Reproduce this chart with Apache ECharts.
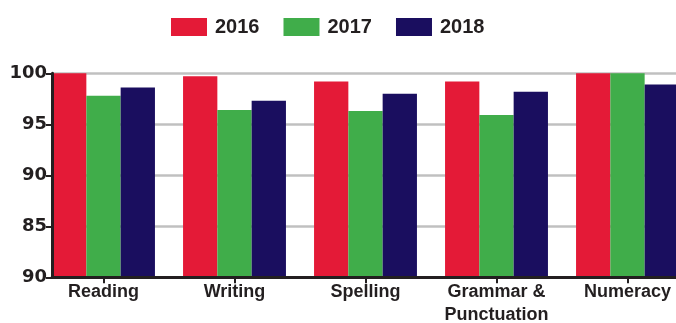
<!DOCTYPE html>
<html>
<head>
<meta charset="utf-8">
<script src="https://cdn.jsdelivr.net/npm/echarts@6/dist/echarts.min.js"></script>
<style>
  html, body { margin: 0; padding: 0; background: #fff; }
  #chart { width: 676px; height: 323px; }
</style>
</head>
<body>
<div id="chart"></div>
<script>
// data
const categories = ['Reading', 'Writing', 'Spelling', 'Grammar &\nPunctuation', 'Numeracy'];
const years = ['2016', '2017', '2018'];
const values2016 = [100, 99.7, 99.2, 99.2, 100];
const values2017 = [97.8, 96.4, 96.3, 95.9, 100];
const values2018 = [98.6, 97.3, 98.0, 98.2, 98.9];
// the bottom tick in the source is printed as "90"
const yTickValues = [80, 85, 90, 95, 100];
const yTickLabels = ['90', '85', '90', '95', '100'];

const colors = ['#e41a37', '#40ad4a', '#1a0e5f'];
const ink = '#231f20';

const chart = echarts.init(document.getElementById('chart'));

const yCommon = {
  gridIndex: 1,
  type: 'value',
  position: 'left',
  min: 80,
  max: 100,
  interval: 5,
};

chart.setOption({
  animation: false,
  color: colors,
  legend: {
    left: 171,
    top: 17,
    padding: 0,
    itemWidth: 36,
    itemHeight: 18,
    itemGap: 24,
    icon: 'rect',
    textStyle: {
      fontFamily: 'Liberation Sans',
      fontWeight: 'bold',
      fontSize: 20,
      color: ink,
      padding: [0, 0, 0, 3],
    },
    data: years,
  },
  grid: [
    // bars: category bands start left of the y axis, chart is cropped on the right
    { left: 38, right: -17, top: 73.3, bottom: 45.7, outerBoundsMode: 'none', containLabel: false },
    // frame: axis lines, labels and gridlines
    { left: 52, right: 0, top: 73.3, bottom: 45.7, outerBoundsMode: 'none', containLabel: false },
  ],
  xAxis: [
    {
      gridIndex: 0,
      type: 'category',
      data: categories,
      axisLine: { show: false },
      axisTick: {
        show: true,
        alignWithLabel: true,
        length: 6,
        lineStyle: { color: ink, width: 2 },
      },
      axisLabel: {
        interval: 0,
        margin: 3,
        fontFamily: 'Liberation Sans',
        fontWeight: 'bold',
        fontSize: 18,
        lineHeight: 23,
        color: ink,
      },
      z: 5,
    },
    {
      gridIndex: 1,
      type: 'value',
      min: 0,
      max: 1,
      axisLine: { show: true, onZero: false, lineStyle: { color: ink, width: 3 } },
      axisTick: { show: false },
      axisLabel: { show: false },
      splitLine: { show: false },
      z: 5,
    },
  ],
  yAxis: [
    {
      gridIndex: 0,
      type: 'value',
      min: 80,
      max: 100,
      show: false,
    },
    Object.assign({}, yCommon, {
      axisLine: { show: false },
      axisTick: { show: false },
      axisLabel: { show: false },
      splitLine: { show: true, lineStyle: { color: '#c0c0c0', width: 2.5 } },
      z: 0,
    }),
    Object.assign({}, yCommon, {
      axisLine: { show: true, onZero: false, lineStyle: { color: ink, width: 3 } },
      axisTick: { show: true, length: 6, lineStyle: { color: ink, width: 2 } },
      axisLabel: {
        margin: 5,
        fontFamily: 'DejaVu Sans',
        fontWeight: 'bold',
        fontSize: 18,
        color: ink,
        formatter: (v) => yTickLabels[yTickValues.indexOf(v)],
      },
      splitLine: { show: false },
      z: 5,
    }),
  ],
  series: [values2016, values2017, values2018].map((vals, i) => ({
    name: years[i],
    type: 'bar',
    xAxisIndex: 0,
    yAxisIndex: 0,
    barWidth: 34.3,
    barGap: '0%',
    data: vals,
    z: 2,
  })),
});
</script>
</body>
</html>
